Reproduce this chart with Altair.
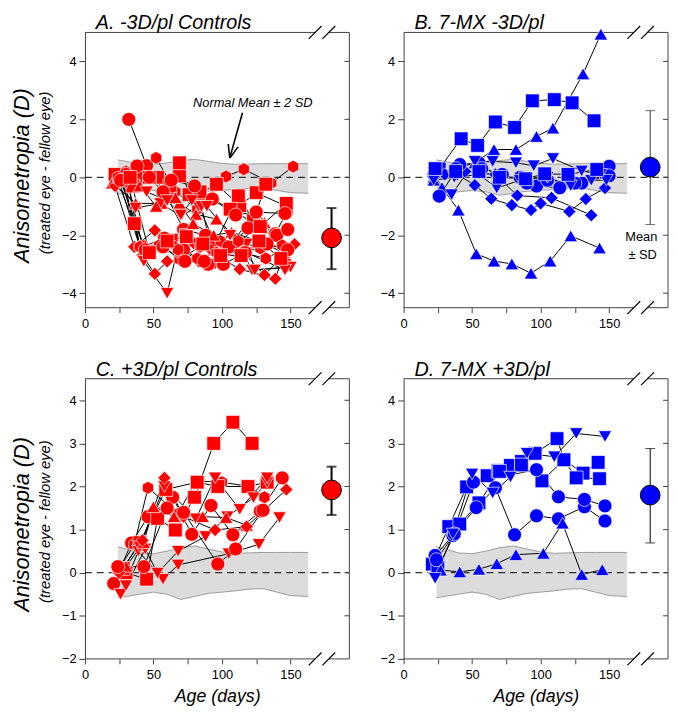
import altair as alt
import pandas as pd

FONT = "Liberation Sans"
RED = "#ff0000"
BLUE = "#0000ff"
FRAME = "#404040"

AGE_MAX = 193
MEAN_AGE = 180
BREAK_AGES = [168, 178]
X_TICKS = [0, 25, 50, 75, 100, 125, 150]
Y_TICKS_TOP = [-4, -2, 0, 2, 4]
Y_TICKS_BOT = [-2, -1, 0, 1, 2, 3, 4]
Y_DOM_TOP = [-4.5, 5]
Y_DOM_BOT = [-2, 4.5]

# Normal mean +/- 2 SD band
band_age = [24, 30, 40, 50, 60, 70, 80, 90, 100, 110, 120, 130, 140, 150, 163]
band_hi = [0.60, 0.55, 0.46, 0.44, 0.50, 0.58, 0.62, 0.55, 0.48, 0.45, 0.46, 0.47, 0.47, 0.47, 0.47]
band_lo = [-0.58, -0.55, -0.50, -0.45, -0.50, -0.62, -0.55, -0.48, -0.45, -0.42, -0.38, -0.37, -0.45, -0.53, -0.55]

# ---------- Panel A: -3D/pl controls ----------
A_shapes = ["circle", "hexagon", "square", "square", "triangle-up", "triangle-down", "diamond",
            "diamond", "hexagon", "triangle-down", "circle", "square", "circle", "triangle-up",
            "triangle-down", "hexagon", "circle", "square"]
A_ages = [
    [32, 45, 58, 72, 88, 103, 125, 139, 147],
    [24, 36, 52, 66, 82, 103, 116, 136, 152],
    [25, 40, 53, 69, 84, 96, 113, 125, 147],
    [22, 36, 45, 63, 74, 95, 112, 123, 132],
    [20, 37, 56, 69, 81, 96, 113, 131, 148],
    [26, 37, 55, 70, 83, 98, 113, 122, 148],
    [22, 36, 51, 66, 80, 92, 110, 131, 153],
    [28, 42, 51, 60, 83, 100, 113, 139, 146],
    [30, 40, 55, 69, 84, 99, 115, 132, 147],
    [27, 43, 60, 67, 85, 95, 118, 124, 150],
    [30, 42, 58, 72, 90, 105, 119, 140, 148],
    [35, 47, 62, 69, 76, 84, 106, 128, 147],
    [38, 47, 57, 63, 80, 93, 110, 125, 146],
    [25, 40, 52, 66, 79, 94, 107, 127, 145],
    [30, 45, 60, 70, 78, 89, 106, 118, 146],
    [24, 40, 54, 68, 82, 96, 112, 128, 144],
    [26, 44, 57, 73, 87, 101, 117, 133, 148],
    [33, 47, 60, 74, 86, 99, 114, 127, 143],
]
A_vals = [
    [2.00, 0.40, -0.50, -1.80, -2.00, -2.50, -1.20, -1.95, -1.22],
    [0.10, -0.30, 0.67, -0.50, -1.10, 0.03, 0.28, -0.20, 0.37],
    [0.00, 0.00, 0.00, 0.05, -0.55, -0.24, -0.98, -0.53, -1.00],
    [0.10, -1.60, -2.55, -2.17, -2.00, -2.30, -0.64, -1.50, -0.24],
    [-0.20, -0.90, -0.90, -0.90, -1.28, -1.44, -2.20, -1.56, -2.83],
    [-0.20, -1.06, -0.90, -1.33, -1.00, -2.60, -2.40, -3.20, -3.10],
    [-0.30, -2.40, -1.83, -2.40, -2.30, -2.50, -2.30, -3.37, -2.31],
    [-0.10, -2.70, -3.33, -2.90, -2.90, -2.80, -3.17, -3.50, -2.50],
    [0.20, -2.39, -2.33, -2.83, -2.40, -2.20, -2.60, -2.80, -2.44],
    [-0.10, -2.90, -4.00, -2.60, -1.00, -3.00, -2.30, -3.20, -3.10],
    [0.10, -2.40, -2.10, -2.50, -3.00, -2.40, -1.75, -2.00, -1.80],
    [-0.30, 0.00, -0.30, 0.50, -0.60, -0.50, -1.10, -1.70, -0.90],
    [0.39, 0.00, -0.50, -0.10, -0.30, -0.75, -1.30, -1.20, -1.25],
    [0.00, -0.30, -1.00, -0.70, -1.60, -2.00, -1.90, -2.20, -2.60],
    [-0.20, -0.50, -0.80, -1.30, -0.80, -1.00, -2.00, -2.60, -3.20],
    [0.00, -2.40, -2.35, -2.50, -2.80, -2.60, -2.20, -2.45, -2.35],
    [-0.10, -2.50, -2.40, -2.90, -2.90, -3.00, -2.60, -2.30, -2.50],
    [0.00, -2.60, -2.20, -2.05, -2.30, -2.70, -2.70, -2.20, -2.80],
]
A_mean = [-2.09, -3.17, -1.06]  # mean, mean - SD, mean + SD

# ---------- Panel B: 7-MX -3D/pl ----------
B_shapes = ["triangle-up", "triangle-up", "square", "diamond", "diamond", "circle", "circle",
            "triangle-down", "triangle-down", "square"]
B_ages = [
    [22, 38, 52, 66, 82, 97, 109, 131, 144],
    [22, 28, 40, 53, 66, 79, 93, 107, 122, 143],
    [26, 42, 54, 67, 81, 94, 110, 123, 139],
    [22, 39, 52, 64, 79, 93, 100, 121, 133, 147],
    [30, 45, 67, 83, 108, 137],
    [26, 41, 55, 70, 85, 97, 114, 130, 150],
    [22, 38, 57, 72, 90, 105, 125, 150],
    [22, 35, 52, 65, 82, 95, 109, 130, 144],
    [22, 37, 55, 68, 85, 105, 122, 137, 148],
    [23, 38, 55, 70, 89, 103, 120, 141],
]
B_vals = [
    [0.00, 0.30, 0.50, 0.96, 0.96, 1.41, 1.70, 3.57, 4.94],
    [-0.10, -0.35, -1.13, -2.64, -2.89, -2.99, -3.31, -2.89, -2.02, -2.44],
    [0.29, 1.33, 1.10, 1.91, 1.72, 2.64, 2.68, 2.57, 1.95],
    [0.00, 0.10, -0.27, -0.74, -0.96, -1.13, -0.90, -1.18, -0.75, -0.37],
    [0.10, 0.20, 0.10, -0.63, -0.71, -1.31],
    [-0.65, 0.44, 0.50, 0.00, 0.00, -0.30, -0.36, -0.20, 0.38],
    [0.10, 0.30, 0.30, 0.10, -0.20, -0.10, -0.20, 0.05],
    [0.00, -0.60, 0.55, 0.55, 0.50, 0.40, 0.65, 0.22, 0.10],
    [-0.10, 0.00, 0.10, -0.37, -0.10, 0.00, -0.29, -0.10, -0.10],
    [0.30, 0.20, 0.20, 0.00, -0.05, 0.12, 0.10, 0.27],
]
B_mean = [0.35, -1.63, 2.30]

# ---------- Panel C: +3D/pl controls ----------
C_shapes = ["circle", "hexagon", "square", "square", "triangle-down", "triangle-down",
            "triangle-down", "triangle-up", "diamond", "circle"]
C_ages = [
    [21, 34, 46, 64, 78, 92, 108, 128, 144],
    [24, 36, 46, 68, 81, 100, 120, 131],
    [30, 45, 53, 66, 80, 94, 108, 122],
    [28, 40, 59, 82, 97, 119, 133],
    [26, 39, 57, 68, 105, 127, 142],
    [30, 44, 53, 68, 88, 104, 123, 133],
    [40, 58, 81, 95, 113, 133],
    [30, 43, 50, 65, 86, 103, 118],
    [25, 42, 58, 72, 95, 118, 147],
    [24, 43, 60, 72, 97, 110, 130],
]
C_vals = [
    [-0.25, 0.69, 1.30, 1.75, 0.89, 1.56, 0.88, 1.43, 2.20],
    [0.05, 0.65, 1.97, 1.37, 2.13, 2.10, 2.00, 1.75],
    [0.00, -0.15, 1.26, 0.99, 1.75, 3.00, 3.49, 3.00],
    [0.10, 0.70, 1.93, 2.10, 2.00, 2.00, 2.10],
    [-0.50, 0.50, -0.15, 0.18, 0.44, 0.66, 1.28],
    [-0.30, 0.55, -0.01, 0.50, 0.84, 1.30, 1.74, 2.10],
    [0.60, 2.00, 1.25, 2.20, 1.47, 2.20],
    [0.15, 0.70, 1.53, 1.30, 1.30, 1.28, 1.10],
    [0.00, 0.75, 2.20, 1.30, 0.99, 1.07, 1.93],
    [0.14, 0.14, 1.50, 1.40, 0.20, 0.55, 1.45],
]
C_mean = [1.92, 1.34, 2.46]

# ---------- Panel D: 7-MX +3D/pl ----------
D_shapes = ["square", "square", "circle", "circle", "triangle-up", "triangle-down"]
D_ages = [
    [21, 33, 46, 61, 69, 78, 86, 96, 112, 117, 131, 142],
    [25, 41, 55, 70, 86, 101, 117, 126, 143],
    [23, 36, 53, 67, 81, 97, 113, 132, 147],
    [24, 37, 51, 97, 113, 132, 147],
    [27, 41, 55, 68, 82, 102, 116, 130, 145],
    [23, 36, 50, 65, 78, 90, 110, 126, 147],
]
D_vals = [
    [0.20, 1.07, 1.99, 2.25, 2.37, 2.49, 2.58, 2.77, 3.11, 2.62, 2.31, 2.56],
    [0.12, 1.13, 1.62, 2.35, 2.50, 2.13, 2.62, 2.20, 2.18],
    [0.40, 0.86, 1.51, 1.97, 0.88, 1.32, 1.25, 1.53, 1.20],
    [0.30, 0.90, 2.10, 2.39, 1.76, 1.70, 1.55],
    [0.06, 0.02, 0.08, 0.21, 0.42, 0.45, 1.15, -0.04, 0.07],
    [-0.13, 0.90, 2.29, 1.85, 2.22, 2.77, 2.69, 3.23, 3.16],
]
D_mean = [1.80, 0.69, 2.88]

# annotations (data units)
NOTE_A = {"age": 122.5, "val": 2.58, "t": "Normal Mean \u00b1 2 SD"}
ARROW_A = [[115.0, 2.23, 105.7, 0.67], [111.8, 1.05, 105.7, 0.67], [104.6, 1.15, 105.7, 0.67]]
NOTE_B = [{"age": 173.5, "val": -2.07, "t": "Mean"}, {"age": 174.5, "val": -2.70, "t": "\u00b1 SD"}]

SHAPE_NAMES = ["circle", "square", "triangle-up", "triangle-down", "diamond", "hexagon"]
HEX_PATH = "M0,-1L0.866,-0.5L0.866,0.5L0,1L-0.866,0.5L-0.866,-0.5Z"
SHAPE_RANGE = ["circle", "square", "triangle-up", "triangle-down", "diamond", HEX_PATH]
SIZE_RANGE = [200, 170, 225, 215, 300, 225]

W = 268
H_TOP = 279
H_BOT = 284


def series_df(ages, vals, shapes):
    rows = []
    for i, (ag, vs) in enumerate(zip(ages, vals)):
        for a, v in zip(ag, vs):
            rows.append({"sid": i, "shape": shapes[i], "age": a, "val": v})
    return pd.DataFrame(rows)


def panel(title, ages, vals, shapes, mean, color, ydom, yticks, H, xtitle, ylabel,
          bar_w, bar_color, extra):
    ymin, ymax = ydom
    px_day = W / AGE_MAX
    px_unit = H / (ymax - ymin)
    hx = 6.5 / px_day
    hy = 6.5 / px_unit
    b1, b2 = BREAK_AGES

    xkw = dict(values=X_TICKS, labelExpr="datum.value % 50 === 0 ? datum.label : ''",
               domain=False, tickSize=5, tickColor=FRAME, tickWidth=1, labelFont=FONT,
               labelFontSize=13, labelColor="black", labelPadding=5, labelFlush=False,
               labelOverlap=False, grid=False)
    if xtitle:
        xkw.update(title=xtitle, titleFont=FONT, titleFontSize=18, titleFontStyle="italic",
                   titleFontWeight="normal", titlePadding=6, titleColor="black")
    else:
        xkw.update(title=None)
    x = alt.X("age:Q", scale=alt.Scale(domain=[0, AGE_MAX], nice=False, zero=False),
              axis=alt.Axis(**xkw))
    y = alt.Y("val:Q", scale=alt.Scale(domain=ydom, nice=False, zero=False),
              axis=alt.Axis(values=yticks, domainColor=FRAME, domainWidth=1, tickColor=FRAME,
                            tickSize=6, tickWidth=1, labelFont=FONT, labelFontSize=13,
                            labelColor="black", labelPadding=3, grid=False, title=None,
                            labelOverlap=False))

    band = pd.DataFrame({"age": band_age, "val": band_hi, "val2": band_lo})
    band_edges = pd.concat([
        pd.DataFrame({"age": band_age, "val": band_hi, "edge": "hi"}),
        pd.DataFrame({"age": band_age, "val": band_lo, "edge": "lo"}),
    ])
    segs = [
        [0, b1, ymax, ymax], [b2, AGE_MAX, ymax, ymax],
        [0, b1, ymin, ymin], [b2, AGE_MAX, ymin, ymin],
        [AGE_MAX, AGE_MAX, ymin, ymax],
    ] + [[AGE_MAX - 5 / px_day, AGE_MAX, t, t] for t in yticks if ymin < t < ymax]
    frame = pd.DataFrame(segs, columns=["age", "age2", "val", "val2"])
    slashes = pd.DataFrame([[b - hx, b + hx, yy - hy, yy + hy] for b in (b1, b2) for yy in (ymin, ymax)],
                           columns=["age", "age2", "val", "val2"])
    df = series_df(ages, vals, shapes)
    m, lo, hi = mean
    bar = pd.DataFrame({"age": [MEAN_AGE], "val": [lo], "val2": [hi]})
    caps = pd.DataFrame({"age": [MEAN_AGE, MEAN_AGE], "val": [lo, hi]})
    mpt = pd.DataFrame({"age": [MEAN_AGE], "val": [m]})

    layers = [
        alt.Chart(band).mark_area(fill="#dcdcdc", opacity=1).encode(x=x, y=y, y2="val2:Q"),
        alt.Chart(band_edges).mark_line(color="#9a9a9a", strokeWidth=1).encode(
            x=x, y=y, detail="edge:N"),
        alt.Chart(pd.DataFrame({"val": [0]})).mark_rule(
            color="black", strokeWidth=1, strokeDash=[7, 5]).encode(
            y=y, x=alt.value(0), x2=alt.value(W)),
        alt.Chart(frame).mark_rule(color=FRAME, strokeWidth=1).encode(
            x=x, x2="age2:Q", y=y, y2="val2:Q"),
        alt.Chart(slashes).mark_rule(color="black", strokeWidth=1.2).encode(
            x=x, x2="age2:Q", y=y, y2="val2:Q"),
        alt.Chart(df).mark_line(color="black", strokeWidth=1).encode(
            x=x, y=y, detail="sid:N", order="age:Q"),
        alt.Chart(df).mark_point(filled=True, fill=color, stroke="white", strokeWidth=0.7,
                                 opacity=1, fillOpacity=1, strokeOpacity=1).encode(
            x=x, y=y,
            shape=alt.Shape("shape:N", scale=alt.Scale(domain=SHAPE_NAMES, range=SHAPE_RANGE),
                            legend=None),
            size=alt.Size("shape:N", scale=alt.Scale(domain=SHAPE_NAMES, range=SIZE_RANGE),
                          legend=None)),
        alt.Chart(bar).mark_rule(color=bar_color, strokeWidth=bar_w).encode(
            x=x, y=y, y2="val2:Q"),
        alt.Chart(caps).mark_tick(orient="horizontal", size=10, thickness=bar_w,
                                  color=bar_color).encode(x=x, y=y),
        alt.Chart(mpt).mark_point(filled=True, fill=color, stroke="black", strokeWidth=1,
                                  size=400, shape="circle", opacity=1).encode(x=x, y=y),
    ]
    if ylabel:
        layers.append(alt.Chart(pd.DataFrame({"t": ["Anisometropia (D)"]})).mark_text(
            angle=270, align="center", baseline="alphabetic", font=FONT, fontSize=22,
            fontStyle="italic", color="black").encode(
            x=alt.value(-57), y=alt.value(H * 0.52), text="t:N"))
        layers.append(alt.Chart(pd.DataFrame({"t": ["(treated eye - fellow eye)"]})).mark_text(
            angle=270, align="center", baseline="alphabetic", font=FONT, fontSize=15,
            fontStyle="italic", color="black").encode(
            x=alt.value(-35), y=alt.value(H * 0.51), text="t:N"))
    layers += extra(x, y)

    return alt.layer(*layers).properties(
        width=W, height=H,
        title=alt.TitleParams(text=title, anchor="start", frame="group", dx=11, font=FONT,
                              fontSize=20, fontStyle="italic", fontWeight="normal",
                              color="black", offset=-8),
    )


def extra_a(x, y):
    arrow = pd.DataFrame(ARROW_A, columns=["age", "val", "age2", "val2"])
    return [
        alt.Chart(pd.DataFrame([NOTE_A])).mark_text(
            font=FONT, fontSize=13, fontStyle="italic", align="center", baseline="middle",
            color="black").encode(x=x, y=y, text="t:N"),
        alt.Chart(arrow).mark_rule(color="black", strokeWidth=1.6).encode(
            x=x, x2="age2:Q", y=y, y2="val2:Q"),
    ]


def extra_b(x, y):
    return [
        alt.Chart(pd.DataFrame(NOTE_B)).mark_text(
            font=FONT, fontSize=13, align="center", baseline="middle", color="black").encode(
            x=x, y=y, text="t:N"),
    ]


def extra_none(x, y):
    return []


pA = panel("A. -3D/pl Controls", A_ages, A_vals, A_shapes, A_mean, RED, Y_DOM_TOP, Y_TICKS_TOP,
           H_TOP, None, True, 2, "black", extra_a)
pB = panel("B. 7-MX -3D/pl", B_ages, B_vals, B_shapes, B_mean, BLUE, Y_DOM_TOP, Y_TICKS_TOP,
           H_TOP, None, False, 1, "#333333", extra_b)
pC = panel("C. +3D/pl Controls", C_ages, C_vals, C_shapes, C_mean, RED, Y_DOM_BOT, Y_TICKS_BOT,
           H_BOT, "Age (days)", True, 2, "black", extra_none)
pD = panel("D. 7-MX +3D/pl", D_ages, D_vals, D_shapes, D_mean, BLUE, Y_DOM_BOT, Y_TICKS_BOT,
           H_BOT, "Age (days)", False, 1, "black", extra_none)

chart = alt.vconcat(
    alt.hconcat(pA, pB, spacing=30),
    alt.hconcat(pC, pD, spacing=30),
    spacing=29,
    padding={"left": 3, "top": 0, "right": 0, "bottom": 0},
).configure_view(stroke=None)

chart.save("out.html", embed_options={"renderer": "svg", "actions": False})
